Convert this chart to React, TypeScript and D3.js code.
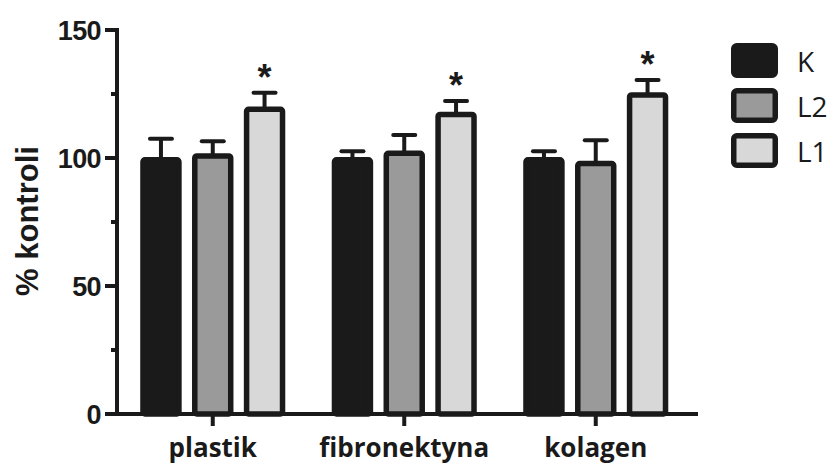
import React from "react";
import * as d3 from "d3";

const categories = ["plastik", "fibronektyna", "kolagen"];
const series = ["K", "L2", "L1"];
const colors = ["#1a1a1a", "#9a9a9a", "#d8d8d8"];
const valuesK = [100, 100, 100];
const valuesL2 = [101.5, 102.5, 98.5];
const valuesL1 = [119.7, 117.7, 125.3];
const errK = [7.5, 2.6, 2.6];
const errL2 = [5.0, 6.5, 8.4];
const errL1 = [5.8, 4.6, 5.2];
const significant = [[false, false, true], [false, false, true], [false, false, true]];
const yTicks = [0, 50, 100, 150];
const yMinorTicks = [25, 75, 125];

const W = 833;
const H = 464;

export default function App() {
  const values = [valuesK, valuesL2, valuesL1];
  const errs = [errK, errL2, errL1];
  const y = d3.scaleLinear().domain([0, 150]).range([414, 30]);
  const x0 = d3.scaleBand<string>().domain(categories).range([117, 691.5]).padding(0);
  const x1 = d3.scaleBand<string>().domain(series).range([-77.7, 77.7]).paddingInner(0.2).paddingOuter(0.1);
  const bw = x1.bandwidth();
  const sw = 5.5;
  const ink = "#1a1a1a";

  return (
    <svg width={W} height={H} style={{ position: "absolute", left: 0, top: 0, background: "#fff" }}>
      {/* bars */}
      {categories.map((c, ci) => {
        const cx = (x0(c) as number) + x0.bandwidth() / 2;
        return series.map((s, si) => {
          const v = values[si][ci];
          const e = errs[si][ci];
          const bx = cx + (x1(s) as number);
          const mid = bx + bw / 2;
          const top = y(v);
          const et = y(v + e);
          return (
            <g key={c + s}>
              <line x1={mid} x2={mid} y1={top} y2={et} stroke={ink} strokeWidth={4} />
              <line x1={mid - 11} x2={mid + 11} y1={et} y2={et} stroke={ink} strokeWidth={4} strokeLinecap="round" />
              <rect
                x={bx + sw / 2}
                y={top + sw / 2 - 1}
                width={bw - sw}
                height={y(0) - top - sw / 2 + 1}
                fill={colors[si]}
                stroke={ink}
                strokeWidth={sw}
                rx={2}
              />
              {significant[ci][si] && (
                <text
                  x={mid}
                  y={et - 3}
                  textAnchor="middle"
                  fontFamily="Liberation Sans, Arial, sans-serif"
                  fontWeight="bold"
                  fontSize={36}
                  fill={ink}
                >
                  *
                </text>
              )}
            </g>
          );
        });
      })}

      {/* y axis */}
      <line x1={117} x2={117} y1={y(150) - 2} y2={y(0) + 2} stroke={ink} strokeWidth={4} />
      {yTicks.map((t) => (
        <g key={t}>
          <line x1={105} x2={117} y1={y(t)} y2={y(t)} stroke={ink} strokeWidth={4} />
          <text
            x={101}
            y={y(t) + 9.5}
            textAnchor="end"
            fontFamily="Liberation Sans, Arial, sans-serif"
            fontWeight="bold"
            fontSize={27}
            letterSpacing={-0.6}
            fill={ink}
          >
            {t}
          </text>
        </g>
      ))}
      {yMinorTicks.map((t) => (
        <line key={t} x1={111} x2={117} y1={y(t)} y2={y(t)} stroke={ink} strokeWidth={4} />
      ))}
      <text
        transform={`translate(38, ${221}) rotate(-90)`}
        textAnchor="middle"
        fontFamily="Liberation Sans, Arial, sans-serif"
        fontWeight="bold"
        fontSize={31}
        fill={ink}
      >
        % kontroli
      </text>

      {/* x axis */}
      <line x1={115} x2={698} y1={y(0)} y2={y(0)} stroke={ink} strokeWidth={4} />
      {categories.map((c) => {
        const cx = (x0(c) as number) + x0.bandwidth() / 2;
        return (
          <g key={c}>
            <line x1={cx} x2={cx} y1={y(0)} y2={y(0) + 12} stroke={ink} strokeWidth={4} />
            <text
              x={cx}
              y={457}
              textAnchor="middle"
              fontFamily="Open Sans, sans-serif"
              fontWeight="bold"
              fontSize={26}
              fill={ink}
            >
              {c}
            </text>
          </g>
        );
      })}

      {/* legend */}
      {series.map((s, si) => (
        <g key={s} transform={`translate(731, ${43 + si * 45})`}>
          <rect x={2.75} y={2.75} width={47 - 5.5} height={35 - 5.5} fill={colors[si]} stroke={ink} strokeWidth={5.5} rx={3} />
          <text x={66} y={29} fontFamily="Open Sans, sans-serif" fontSize={28} fill={ink}>
            {s}
          </text>
        </g>
      ))}
    </svg>
  );
}
